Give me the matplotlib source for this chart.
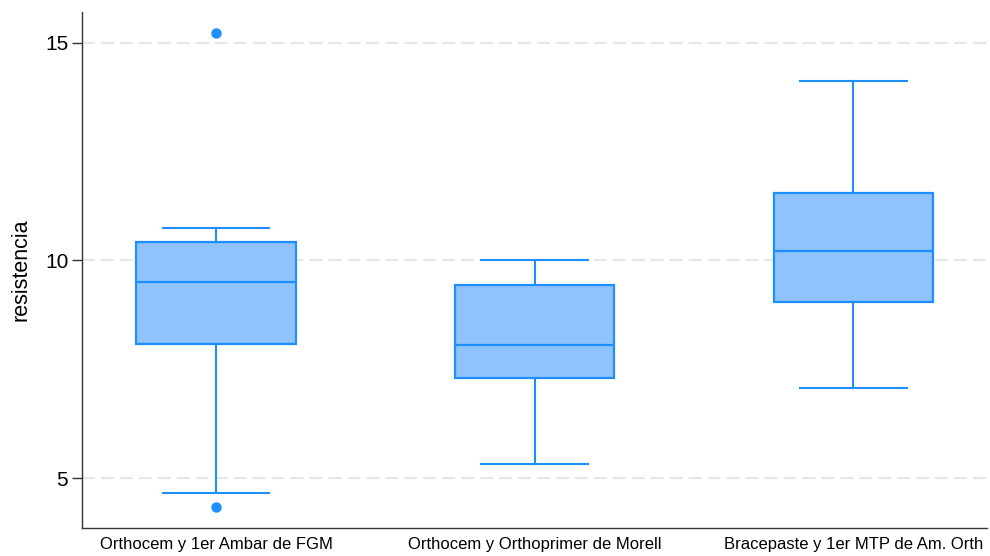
import numpy as np
import matplotlib
matplotlib.use("Agg")
import matplotlib.pyplot as plt

# values
groups = ["Orthocem y 1er Ambar de FGM",
          "Orthocem y Orthoprimer de Morell",
          "Bracepaste y 1er MTP de Am. Orth"]
whislo = [4.65, 5.32, 7.06]
q1 = [8.07, 7.30, 9.05]
med = [9.50, 8.05, 10.21]
q3 = [10.43, 9.43, 11.55]
whishi = [10.74, 10.00, 14.11]
fliers = [[15.23, 4.34], [], []]

yticks = [5, 10, 15]

plt.rcParams['font.family'] = ['Liberation Sans', 'DejaVu Sans']

edge = "#1e8fff"
face = "#90c2fd"

fig = plt.figure(figsize=(9.9, 5.56), dpi=100)
ax = fig.add_axes([0.083, 0.051, 0.914, 0.927])

stats = []
for i in range(len(groups)):
    stats.append(dict(label=groups[i], whislo=whislo[i], q1=q1[i], med=med[i],
                      q3=q3[i], whishi=whishi[i], fliers=fliers[i]))

ax.bxp(stats, positions=[1, 2, 3], widths=0.5, patch_artist=True,
       boxprops=dict(facecolor=face, edgecolor=edge, linewidth=1.6),
       medianprops=dict(color=edge, linewidth=1.6),
       whiskerprops=dict(color=edge, linewidth=1.5),
       capprops=dict(color=edge, linewidth=1.5),
       capwidths=0.335,
       flierprops=dict(marker='o', markerfacecolor=edge, markeredgecolor=edge,
                       markersize=6.5))

ax.set_xlim(0.58, 3.42)
ax.set_ylim(3.86, 15.7)
ax.set_yticks(yticks)
ax.tick_params(axis='y', labelsize=15, length=7, width=1, color='#333333', pad=3)
ax.tick_params(axis='x', labelsize=12, length=0, pad=7)
ax.set_ylabel("resistencia", fontsize=15.5, labelpad=10)

for y in yticks:
    ax.axhline(y, color='#e6e6e6', linewidth=1.5, dashes=(6.2, 2.9), zorder=0)

for s in ['top', 'right']:
    ax.spines[s].set_visible(False)
for s in ['left', 'bottom']:
    ax.spines[s].set_color('#333333')
    ax.spines[s].set_linewidth(1.0)

fig.savefig("out.png", dpi=100)
